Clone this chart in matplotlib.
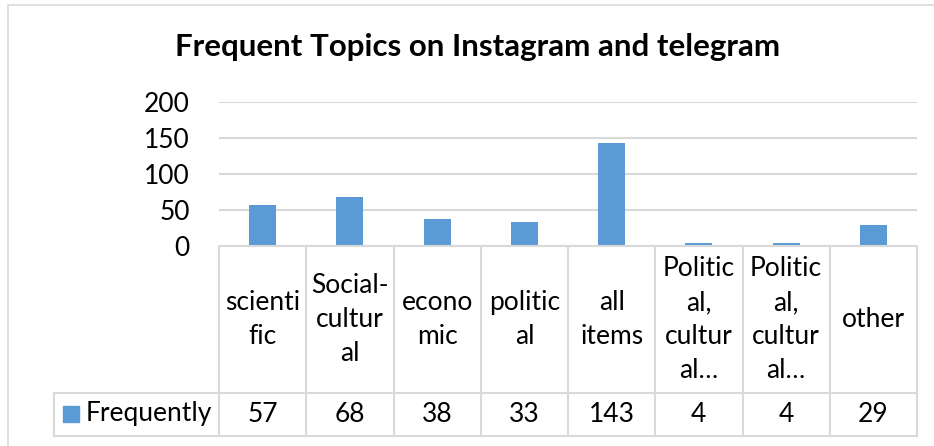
import matplotlib
matplotlib.use("Agg")
import matplotlib.pyplot as plt
from matplotlib.patches import Rectangle
from matplotlib.lines import Line2D
import matplotlib.transforms as mtransforms

categories = ["scienti\nfic", "Social-\ncultur\nal", "econo\nmic", "politic\nal",
              "all\nitems", "Politic\nal,\ncultur\nal…", "Politic\nal,\ncultur\nal…", "other"]
values = [57, 68, 38, 33, 143, 4, 4, 29]
series_name = "Frequently"
title = "Frequent Topics on Instagram and telegram"
yticks = [0, 50, 100, 150, 200]

BLUE = "#5b9bd5"
GRID = "#d9d9d9"
FONT = ["Lato", "DejaVu Sans"]
plt.rcParams["font.family"] = FONT
FS = 19

W, H = 934, 446
fig = plt.figure(figsize=(W / 100, H / 100), dpi=100)

def fx(px):
    return px / W

def fy(py):
    return 1 - py / H

# outer chart border (only top/left visible)
fig.patches.append(Rectangle((fx(8), fy(470)), fx(960) - fx(8), fy(5) - fy(470),
                             transform=fig.transFigure, fill=False, edgecolor=GRID, lw=1.2))

left, right, top, bottom = 219, 917, 102, 246
ax = fig.add_axes([fx(left), fy(bottom), fx(right) - fx(left), fy(top) - fy(bottom)])
x = list(range(len(values)))
ax.bar(x, values, width=0.31, color=BLUE, zorder=3)
ax.set_xlim(-0.5, len(values) - 0.5)
ax.set_ylim(0, 200)
ax.set_yticks(yticks)
ax.yaxis.grid(True, color=GRID, lw=1.5, zorder=0)
ax.tick_params(axis="y", length=0, pad=21, labelsize=FS)
ax.tick_params(axis="x", length=0, labelbottom=False)
for s in ["top", "right", "left"]:
    ax.spines[s].set_visible(False)
ax.spines["bottom"].set_color(GRID)
ax.spines["bottom"].set_linewidth(1.5)
ax.spines["bottom"].set_zorder(4)

fig.text(fx(478), fy(47), title, ha="center", va="center", fontsize=22.5,
         fontweight="bold", color="black")

# data table
ph = bottom - top
def ay(py):
    return (bottom - py) / ph

hdr_bot = ay(393)
val_bot = ay(436)
leg_left = (54 - left) / (right - left)
trans = mtransforms.blended_transform_factory(ax.transData, ax.transAxes)
n = len(values)
lkw = dict(color=GRID, lw=1.5, clip_on=False)
for i in range(n + 1):
    ax.add_line(Line2D([i - 0.5, i - 0.5], [0, val_bot], transform=trans, **lkw))
ax.add_line(Line2D([leg_left, 1], [hdr_bot, hdr_bot], transform=ax.transAxes, **lkw))
ax.add_line(Line2D([leg_left, 1], [val_bot, val_bot], transform=ax.transAxes, **lkw))
ax.add_line(Line2D([leg_left, leg_left], [hdr_bot, val_bot], transform=ax.transAxes, **lkw))

for i, (c, v) in enumerate(zip(categories, values)):
    ax.text(i, hdr_bot / 2, c, transform=trans, ha="center", va="center",
            fontsize=FS, linespacing=1.45, clip_on=False, multialignment="center")
    ax.text(i, (hdr_bot + val_bot) / 2, str(v), transform=trans, ha="center",
            va="center", fontsize=FS, clip_on=False)

fig.patches.append(Rectangle((fx(63), fy(422)), fx(16), fy(406) - fy(422),
                             transform=fig.transFigure, color=BLUE))
fig.text(fx(86), fy(414), series_name, ha="left", va="center", fontsize=FS)

fig.savefig("out.png", dpi=100)
